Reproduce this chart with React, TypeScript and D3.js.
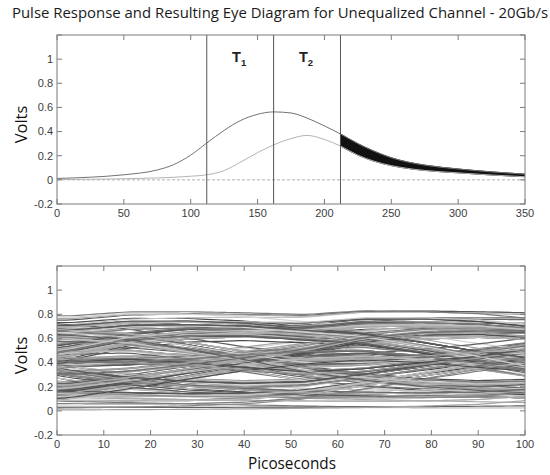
import React from "react";
import * as d3 from "d3";

// ---------- data ----------
const titleText = "Pulse Response and Resulting Eye Diagram for Unequalized Channel - 20Gb/s";
const pulseTime = [0, 25, 50, 75, 87, 100, 112, 125, 137, 150, 162, 175, 187, 200, 212, 225, 237, 250, 262, 275, 300, 325, 350];
const pulseDark = [0.012, 0.022, 0.042, 0.082, 0.125, 0.205, 0.305, 0.41, 0.49, 0.543, 0.563, 0.554, 0.512, 0.447, 0.38, 0.3, 0.238, 0.183, 0.148, 0.122, 0.09, 0.066, 0.047];
const pulseLight = [0.003, 0.005, 0.009, 0.016, 0.021, 0.03, 0.042, 0.077, 0.145, 0.225, 0.29, 0.342, 0.368, 0.335, 0.28, 0.205, 0.155, 0.118, 0.095, 0.078, 0.058, 0.04, 0.026];
const markerTimes = [112, 162, 212];
const markerLabels = ["1", "2"];
const tailStart = 212;
const topXTicks = [0, 50, 100, 150, 200, 250, 300, 350];
const yTicks = [-0.2, 0, 0.2, 0.4, 0.6, 0.8, 1, 1.2];
const eyeXTicks = [0, 10, 20, 30, 40, 50, 60, 70, 80, 90, 100];
const bitPeriod = 50; // ps at 20Gb/s
const eyeBits =
  "1101001110001011110010000000111010110011000101101110100101000111100110101110001001101100001011101001111001010001101111111011001001110000110101101001111000101100011011100101110100001011001111010010110001110100101100111000010111010011";
const eyeShades = ["#4a4a4a", "#9c9c9c", "#6a6a6a", "#c2c2c2", "#585858", "#ababab", "#7c7c7c", "#d2d2d2", "#606060", "#a4a4a4", "#8a8a8a", "#bababa"];

// ---------- layout ----------
const W = 550;
const H = 475;
const left = 57;
const right = 525;
const top1 = 35;
const bot1 = 204;
const top2 = 266;
const bot2 = 435;
const tickFont = "'Liberation Sans', Arial, sans-serif";
const labelFont = "'Open Sans', 'Noto Sans', sans-serif";

function fmt(v: number) {
  return String(+v.toFixed(1));
}

function Frame({ x, y, xTicks }: { x: d3.ScaleLinear<number, number>; y: d3.ScaleLinear<number, number>; xTicks: number[] }) {
  const [x0, x1] = x.range();
  const [y1, y0] = y.range();
  const tl = 5;
  return (
    <g>
      <rect x={x0} y={y0} width={x1 - x0} height={y1 - y0} fill="none" stroke="#7a7a7a" strokeWidth={1} />
      {xTicks.map((t) => (
        <g key={"x" + t}>
          <line x1={x(t)} x2={x(t)} y1={y1} y2={y1 - tl} stroke="#7a7a7a" />
          <line x1={x(t)} x2={x(t)} y1={y0} y2={y0 + tl} stroke="#7a7a7a" />
          <text x={x(t)} y={y1 + 13} textAnchor="middle" fontFamily={tickFont} fontSize={11} fill="#3c3c3c">
            {fmt(t)}
          </text>
        </g>
      ))}
      {yTicks.map((t) => (
        <g key={"y" + t}>
          <line x1={x0} x2={x0 + tl} y1={y(t)} y2={y(t)} stroke="#7a7a7a" />
          <line x1={x1} x2={x1 - tl} y1={y(t)} y2={y(t)} stroke="#7a7a7a" />
          {t < 1.1 && (
            <text x={x0 - 4} y={y(t)} dy="0.35em" textAnchor="end" fontFamily={tickFont} fontSize={11} fill="#3c3c3c">
              {fmt(t)}
            </text>
          )}
        </g>
      ))}
    </g>
  );
}

export default function App() {
  const xTop = d3.scaleLinear().domain([0, 350]).range([left, right]);
  const yTop = d3.scaleLinear().domain([-0.2, 1.2]).range([bot1, top1]);
  const xEye = d3.scaleLinear().domain([0, 100]).range([left, right]);
  const yEye = d3.scaleLinear().domain([-0.2, 1.2]).range([bot2, top2]);

  const idx = d3.range(pulseTime.length);
  const line = d3
    .line<number>()
    .x((i) => xTop(pulseTime[i]))
    .curve(d3.curveMonotoneX);
  const darkPath = line.y((i) => yTop(pulseDark[i]))(idx) || "";
  const lightPath = line.y((i) => yTop(pulseLight[i]))(idx) || "";
  const tailIdx = idx.filter((i) => pulseTime[i] >= tailStart);
  const band =
    d3
      .area<number>()
      .x((i) => xTop(pulseTime[i]))
      .y0((i) => yTop(pulseLight[i]))
      .y1((i) => yTop(pulseDark[i]))
      .curve(d3.curveMonotoneX)(tailIdx) || "";

  // eye diagram: superposition of the (light) pulse response for the bit stream
  const pulse = d3.scaleLinear().domain(pulseTime).range(pulseLight).clamp(true);
  const peakTime = pulseTime[d3.maxIndex(pulseLight)];
  const phase = 15;
  const bits = eyeBits.split("").map(Number);
  const taus = d3.range(0, 100.01, 2);
  const traces: [number, number][][] = [];
  for (let n = 4; n < bits.length - 5; n++) {
    traces.push(
      taus.map((tau) => {
        let v = 0;
        for (let j = n - 4; j <= n + 4; j++) {
          const c = phase + bitPeriod * (j - n);
          v += bits[j] * pulse(tau - c + peakTime);
        }
        return [tau, v] as [number, number];
      })
    );
  }
  const eyeLine = d3
    .line<[number, number]>()
    .x((d) => xEye(d[0]))
    .y((d) => yEye(d[1]))
    .curve(d3.curveMonotoneX);

  return (
    <svg width={W} height={H} style={{ position: "absolute", left: 0, top: 0, background: "#fff" }}>
      <defs>
        <clipPath id="clipTop">
          <rect x={left} y={top1} width={right - left} height={bot1 - top1} />
        </clipPath>
        <clipPath id="clipEye">
          <rect x={left} y={top2} width={right - left} height={bot2 - top2} />
        </clipPath>
      </defs>
      <text x={12} y={18} fontFamily={labelFont} fontSize={14} fill="#1a1a1a" textLength={536} lengthAdjust="spacingAndGlyphs">
        {titleText}
      </text>

      {/* top plot */}
      <g clipPath="url(#clipTop)">
        <line x1={left} x2={right} y1={yTop(0)} y2={yTop(0)} stroke="#9a9a9a" strokeWidth={0.8} strokeDasharray="3,2" />
        <path d={band} fill="#111" stroke="#111" strokeWidth={1} />
        <path d={lightPath} fill="none" stroke="#b4b4b4" strokeWidth={1} />
        <path d={darkPath} fill="none" stroke="#727272" strokeWidth={1} />
        {markerTimes.map((t) => (
          <line key={t} x1={xTop(t)} x2={xTop(t)} y1={top1} y2={bot1} stroke="#555" strokeWidth={1} />
        ))}
      </g>
      {markerLabels.map((s, i) => (
        <text
          key={s}
          x={xTop((markerTimes[i] + markerTimes[i + 1]) / 2) - 1}
          y={62}
          textAnchor="middle"
          fontFamily={tickFont}
          fontWeight="bold"
          fontSize={14.5}
          fill="#222"
        >
          T
          <tspan fontSize={9.5} dy={4}>
            {s}
          </tspan>
        </text>
      ))}
      <Frame x={xTop} y={yTop} xTicks={topXTicks} />
      <text transform={`translate(27,${(top1 + bot1) / 2 + 5}) rotate(-90)`} textAnchor="middle" fontFamily={labelFont} fontSize={16.5} fill="#111">
        Volts
      </text>

      {/* eye diagram */}
      <g clipPath="url(#clipEye)">
        {traces.map((tr, i) => (
          <path key={i} d={eyeLine(tr) || ""} fill="none" stroke={eyeShades[i % eyeShades.length]} strokeWidth={1.2} />
        ))}
      </g>
      <Frame x={xEye} y={yEye} xTicks={eyeXTicks} />
      <text transform={`translate(27,${(top2 + bot2) / 2 + 5}) rotate(-90)`} textAnchor="middle" fontFamily={labelFont} fontSize={16.5} fill="#111">
        Volts
      </text>
      <text x={292} y={469} textAnchor="middle" fontFamily={labelFont} fontSize={16} fill="#111" textLength={88} lengthAdjust="spacingAndGlyphs">
        Picoseconds
      </text>
    </svg>
  );
}
